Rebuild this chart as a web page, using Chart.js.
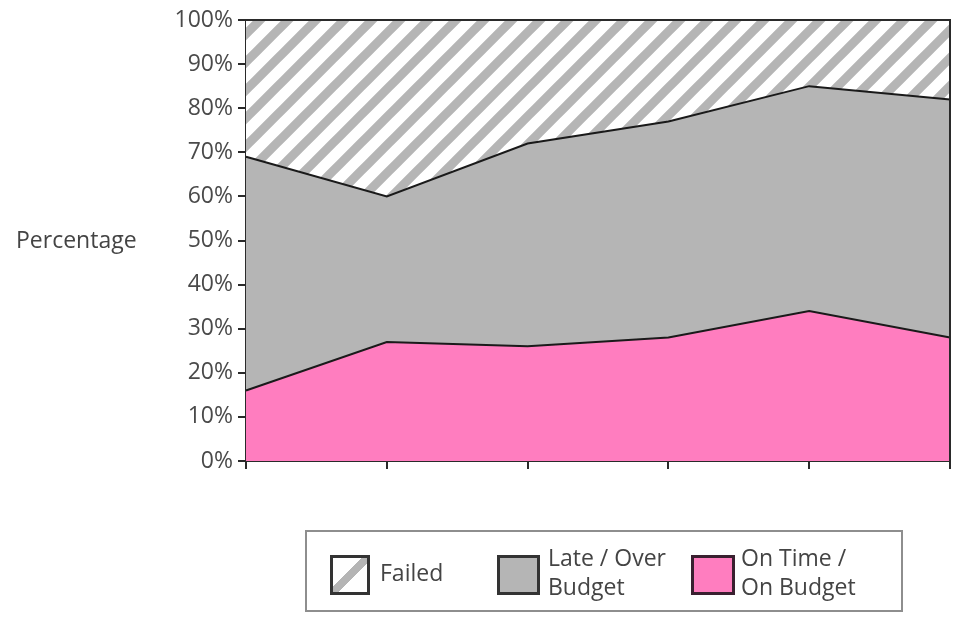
<!DOCTYPE html>
<html>
<head>
<meta charset="utf-8">
<script src="https://cdn.jsdelivr.net/npm/chart.js@4"></script>
<style>
  html, body { margin: 0; padding: 0; background: #fff; }
  #wrap { position: relative; width: 955px; height: 618px; font-family: "Open Sans", sans-serif; }
  #c { position: absolute; left: 0; top: 0; }
  .ytitle { position: absolute; left: 16px; top: 223px; font-size: 23px; color: #444; }
  .legend { position: absolute; left: 305px; top: 530px; width: 598px; height: 82px; border: 2px solid #8e8e8e; box-sizing: border-box; }
  .sw { position: absolute; top: 23px; width: 40px; height: 40px; border: 3px solid #333; box-sizing: border-box; }
  .lt { position: absolute; font-size: 23px; color: #444; line-height: 29px; white-space: nowrap; }
</style>
</head>
<body>
<div id="wrap">
  <canvas id="c" width="955" height="618"></canvas>
  <div class="ytitle">Percentage</div>
  <div class="legend">
    <div class="sw" id="swFailed" style="left:23px;"></div>
    <div class="lt" style="left:73px; top:26px;">Failed</div>
    <div class="sw" style="left:190px; width:43px; background:#b5b5b5;"></div>
    <div class="lt" style="left:241px; top:11px;">Late / Over<br>Budget</div>
    <div class="sw" style="left:384px; width:44px; background:#ff7dbf; border-color:#3a2030;"></div>
    <div class="lt" style="left:434px; top:11px;">On Time /<br>On Budget</div>
  </div>
</div>
<script>
// Six periods, no labels on the category axis
const categories = ['', '', '', '', '', ''];
const onTime   = [16, 27, 26, 28, 34, 28];
const lateOver = [53, 33, 46, 49, 51, 54];
const failed   = [31, 40, 28, 23, 15, 18];
const yTicks   = [0, 10, 20, 30, 40, 50, 60, 70, 80, 90, 100];

// Diagonal hatch used for the "Failed" band
function makeHatch() {
  const p = 28;
  const c = document.createElement('canvas');
  c.width = p; c.height = p;
  const g = c.getContext('2d');
  g.fillStyle = '#ffffff';
  g.fillRect(0, 0, p, p);
  g.strokeStyle = '#b5b5b5';
  g.lineWidth = 9;
  g.beginPath();
  g.moveTo(-p, 2 * p); g.lineTo(2 * p, -p);
  g.moveTo(-2 * p, 2 * p); g.lineTo(p, -p);
  g.moveTo(0, 2 * p); g.lineTo(3 * p, -p);
  g.stroke();
  return g.createPattern(c, 'repeat');
}

// Legend swatch for the hatch: white square with one diagonal stripe
document.getElementById('swFailed').style.background =
  'linear-gradient(to bottom right, #fff 0%, #fff 42%, #b5b5b5 42%, #b5b5b5 58%, #fff 58%, #fff 100%)';

const frame = {
  id: 'frame',
  afterDatasetsDraw(chart) {
    const { ctx, chartArea: a } = chart;
    ctx.save();
    ctx.strokeStyle = '#2a2a2a';
    ctx.lineWidth = 2;
    ctx.beginPath();
    ctx.moveTo(a.left, a.top);
    ctx.lineTo(a.right, a.top);
    ctx.lineTo(a.right, a.bottom);
    ctx.stroke();
    ctx.restore();
  }
};

const lineCol = '#1a1a1a';
new Chart(document.getElementById('c'), {
  type: 'line',
  data: {
    labels: categories,
    datasets: [
      { label: 'On Time / On Budget', data: onTime, backgroundColor: '#ff7dbf', borderColor: lineCol, borderWidth: 2, fill: 'origin' },
      { label: 'Late / Over Budget', data: lateOver, backgroundColor: '#b5b5b5', borderColor: lineCol, borderWidth: 2, fill: '-1' },
      { label: 'Failed', data: failed, backgroundColor: makeHatch(), borderColor: lineCol, borderWidth: 2, fill: '-1' }
    ]
  },
  options: {
    responsive: false,
    animation: false,
    devicePixelRatio: 1,
    layout: { padding: { left: 0, top: 20, right: 5, bottom: 147 } },
    elements: { point: { radius: 0 }, line: { tension: 0 } },
    plugins: { legend: { display: false }, tooltip: { enabled: false } },
    scales: {
      x: {
        offset: false,
        grid: { drawOnChartArea: false, drawTicks: true, tickLength: 8, color: '#2a2a2a', lineWidth: 2 },
        border: { color: '#2a2a2a', width: 2 },
        ticks: { display: false },
        afterFit(s) { s.height = 10; }
      },
      y: {
        stacked: true,
        min: 0, max: 100,
        afterBuildTicks(s) { s.ticks = yTicks.map(v => ({ value: v })); },
        grid: { drawOnChartArea: false, drawTicks: true, tickLength: 8, color: '#2a2a2a', lineWidth: 2 },
        border: { color: '#2a2a2a', width: 2 },
        ticks: {
          color: '#4a4a4a',
          padding: 5,
          font: { family: 'Open Sans', size: 23 },
          callback: v => v + '%'
        },
        afterFit(s) { s.width = 246; }
      }
    }
  },
  plugins: [frame]
});
</script>
</body>
</html>
